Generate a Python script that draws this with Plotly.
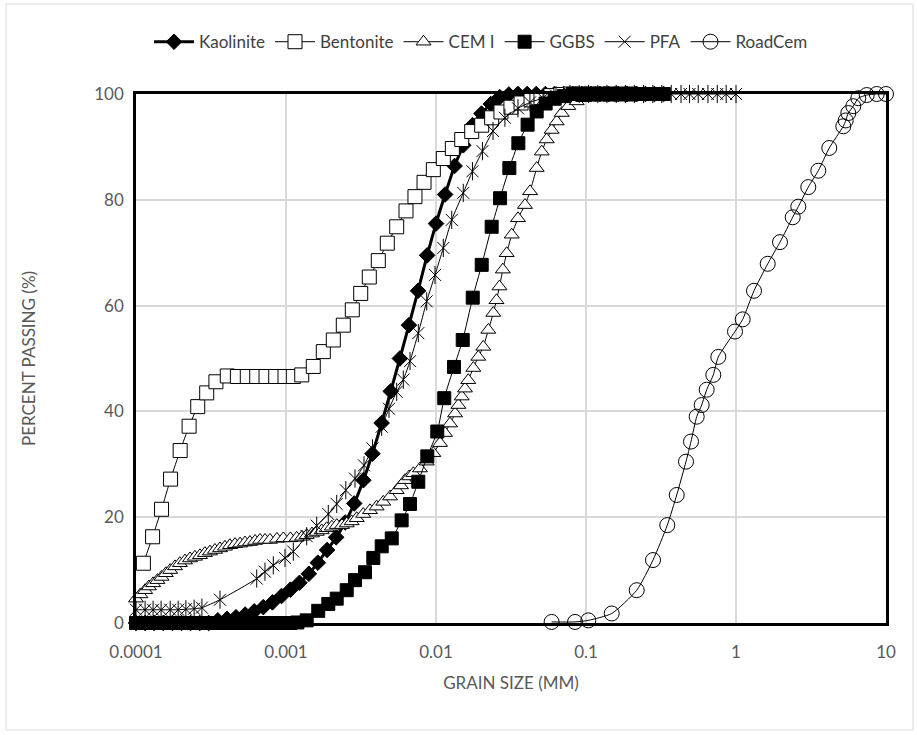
import plotly.graph_objects as go

# ---------------- data ----------------
kao_x = [0.0001, 0.000115, 0.000132, 0.000152, 0.000175, 0.000201, 0.000231, 0.000266, 0.000305,
         0.000351, 0.000404, 0.000464, 0.000534, 0.000614, 0.000706, 0.000812, 0.000934, 0.00107,
         0.00123, 0.00142, 0.00163, 0.00188, 0.00216, 0.00248, 0.00285, 0.00328, 0.00377, 0.00434,
         0.00499, 0.00574, 0.0066, 0.00759, 0.00873, 0.01, 0.0115, 0.0133, 0.0152, 0.0175, 0.0201,
         0.0232, 0.0266, 0.0306, 0.0352, 0.0405, 0.0466, 0.0536, 0.0616, 0.0709, 0.0815, 0.0937,
         0.108, 0.124, 0.142, 0.164, 0.188, 0.216, 0.249, 0.286, 0.329]
kao_y = [0, 0, 0, 0, 0, 0, 0, 0, 0,
         0.5, 0.8, 1.1, 1.6, 2.2, 3.0, 3.9, 5.1, 6.3,
         7.6, 9.3, 11.4, 13.8, 16.2, 19.0, 22.6, 27.0, 32.0, 37.8,
         43.8, 50.0, 56.3, 62.8, 69.5, 75.5, 81.0, 86.4, 90.3, 94.1, 96.3,
         98.1, 99.4, 99.9, 100, 100, 100, 100, 100, 100, 100, 100,
         100, 100, 100, 100, 100, 100, 100, 100, 100]

ben_x = [0.000112, 0.000129, 0.000148, 0.00017, 0.000197, 0.000226, 0.000258, 0.000296, 0.000341,
         0.000406, 0.000474, 0.000552, 0.000638, 0.000736, 0.000854, 0.000985, 0.001119, 0.001273,
         0.00152, 0.001773, 0.002067, 0.00241, 0.002767, 0.003148, 0.003592, 0.004124, 0.004735,
         0.00547, 0.00631, 0.00724, 0.00832, 0.0096, 0.01119, 0.01285, 0.01484, 0.0173, 0.02017,
         0.0235, 0.0271, 0.0316, 0.0369, 0.043, 0.0501, 0.0584, 0.0681, 0.079, 0.092, 0.107,
         0.125, 0.145, 0.17, 0.2]
ben_y = [11.3, 16.3, 21.5, 27.2, 32.6, 37.2, 40.9, 43.5, 45.6,
         46.7, 46.6, 46.6, 46.6, 46.6, 46.6, 46.6, 46.6, 46.9,
         48.5, 51.3, 53.5, 56.3, 59.2, 62.3, 65.4, 68.5, 71.8,
         74.9, 77.9, 80.6, 83.3, 85.7, 87.8, 89.7, 91.4, 92.9, 94.1,
         95.5, 96.6, 97.5, 98.3, 98.9, 99.3, 99.7, 99.9, 100, 100, 100,
         100, 100, 100, 100]

cem_x = [0.0001, 0.000107, 0.000115, 0.000122, 0.00013, 0.000139, 0.000148, 0.000158, 0.000169,
         0.000182, 0.000196, 0.000212, 0.000229, 0.000247, 0.000267, 0.000288, 0.000311, 0.000336,
         0.000363, 0.000392, 0.000423, 0.000457, 0.000494, 0.000533, 0.000575, 0.000622, 0.000671,
         0.000725, 0.000782, 0.00087, 0.00096, 0.00107, 0.001178, 0.00128, 0.001374, 0.00149,
         0.001602, 0.00173, 0.001867, 0.00202, 0.00218, 0.00236, 0.00254, 0.00274, 0.00296,
         0.00327, 0.00363, 0.00402, 0.00445, 0.00494, 0.00547, 0.00584, 0.00621, 0.00662, 0.00706,
         0.00782, 0.00867, 0.0096, 0.01064, 0.01148, 0.0124, 0.0134, 0.0141, 0.01484, 0.0156,
         0.0164, 0.01774, 0.01914, 0.02066, 0.02233, 0.0241, 0.0253, 0.0265, 0.0279, 0.0296,
         0.03197, 0.0352, 0.0392, 0.04236, 0.0469, 0.0507, 0.0547, 0.059, 0.0638, 0.0689, 0.0762,
         0.0867, 0.096, 0.105, 0.116, 0.128, 0.142, 0.158, 0.175, 0.195]
cem_y = [4.6, 5.4, 6.2, 6.9, 7.5, 8.1, 8.7, 9.4, 10.0,
         10.7, 11.3, 11.8, 12.2, 12.5, 12.8, 13.2, 13.5, 13.8,
         14.1, 14.4, 14.7, 14.9, 15.0, 15.2, 15.3, 15.5, 15.7,
         15.7, 15.7, 15.9, 16.0, 16.0, 16.1, 16.3, 16.6, 16.9,
         17.2, 17.5, 17.9, 18.2, 18.5, 18.5, 18.8, 19.2, 19.8,
         20.6, 21.3, 22.0, 22.9, 23.9, 25.1, 26.0, 27.0, 27.7, 28.3,
         29.2, 30.5, 32.1, 34.0, 35.9, 37.7, 39.6, 41.2, 42.8, 44.3,
         45.9, 48.2, 50.3, 52.2, 55.4, 58.6, 61.0, 63.6, 66.8, 69.9,
         73.4, 76.5, 79.0, 81.6, 86.0, 89.1, 91.4, 93.2, 94.8, 96.4, 97.7,
         98.6, 99.2, 99.6, 99.9, 100, 100, 100, 100, 100]

ggbs_x = [0.0001, 0.000115, 0.000132, 0.000152, 0.000175, 0.000201, 0.000231, 0.000266, 0.000305,
          0.000351, 0.000404, 0.000464, 0.000534, 0.000614, 0.000706, 0.000812, 0.000934, 0.00107,
          0.00119, 0.001374, 0.00164, 0.001914, 0.002178, 0.00254, 0.002884, 0.003363, 0.00382,
          0.004345, 0.00507, 0.0059, 0.00671, 0.00762, 0.00875, 0.0102, 0.01135, 0.01318, 0.01507,
          0.01757, 0.02017, 0.0235, 0.02673, 0.03083, 0.0354, 0.0408, 0.0469, 0.0538, 0.0618,
          0.071, 0.0815, 0.094, 0.108, 0.124, 0.142, 0.164, 0.188, 0.216, 0.249, 0.286, 0.33]
ggbs_y = [0, 0, 0, 0, 0, 0, 0, 0, 0,
          0, 0, 0, 0, 0, 0, 0, 0, 0,
          0.1, 0.5, 2.3, 3.6, 4.6, 6.2, 8.1, 9.6, 12.3,
          14.5, 16.0, 19.4, 22.5, 26.7, 31.5, 36.2, 42.5, 48.4, 53.5,
          61.5, 67.7, 74.9, 80.3, 86.0, 90.7, 94.2, 96.7, 98.2, 99.1,
          99.6, 100, 100, 100, 100, 100, 100, 100, 100, 100, 100, 100]

pfa_x = [0.0001, 0.000115, 0.00013, 0.000147, 0.000169, 0.000191, 0.000215, 0.000244, 0.000275,
         0.000363, 0.000638, 0.000724, 0.000823, 0.000985, 0.001119, 0.001374, 0.001602, 0.001914,
         0.002178, 0.002504, 0.002884, 0.003311, 0.003773, 0.004345, 0.004862, 0.00547, 0.006053,
         0.006711, 0.007621, 0.00867, 0.00985, 0.01119, 0.01273, 0.0152, 0.0175, 0.0204, 0.024,
         0.0288, 0.0352, 0.0423, 0.0517, 0.0631, 0.0782, 0.09, 0.104, 0.12, 0.138, 0.159, 0.183,
         0.21, 0.242, 0.279, 0.32, 0.37, 0.43, 0.49, 0.56, 0.65, 0.75, 0.86, 1.0]
pfa_y = [2.5, 2.5, 2.5, 2.5, 2.5, 2.5, 2.6, 2.7, 2.9,
         4.4, 8.4, 9.7, 10.9, 12.3, 13.5, 16.4, 18.4, 20.6,
         22.5, 25.1, 27.3, 29.8, 33.0, 37.1, 40.5, 43.7, 46.0,
         49.5, 54.8, 60.8, 65.8, 70.9, 76.2, 81.3, 85.4, 89.2, 93.0,
         95.5, 97.3, 98.4, 99.2, 99.7, 100, 100, 100, 100, 100, 100, 100,
         100, 100, 100, 100, 100, 100, 100, 100, 100, 100, 100, 100]

road_x = [0.059, 0.0845, 0.1036, 0.1484, 0.2178, 0.2797, 0.3483, 0.4025, 0.4642, 0.5012, 0.547,
          0.5904, 0.6378, 0.7058, 0.7621, 0.9848, 1.108, 1.318, 1.627, 1.965, 2.388, 2.602, 3.034,
          3.538, 4.188, 5.192, 5.387, 5.607, 6.053, 6.537, 7.435, 8.67, 10.0]
road_y = [0.2, 0.2, 0.5, 1.8, 6.2, 11.9, 18.5, 24.2, 30.5, 34.3, 39.0,
          41.2, 44.1, 46.9, 50.3, 55.1, 57.4, 62.8, 67.9, 72.0, 76.7, 78.7, 82.4,
          85.5, 89.8, 93.9, 95.0, 96.4, 97.7, 99.2, 99.8, 100, 100]

tick_vals = [0.0001, 0.001, 0.01, 0.1, 1, 10]
tick_text = ["0.0001", "0.001", "0.01", "0.1", "1", "10"]

# ---------------- figure ----------------
FONT = "Lato"
TXT = "#595959"
fig = go.Figure()

def add(name, x, y, symbol, size, lw, fill, showlegend=True, mode="lines+markers", shape="spline"):
    fig.add_trace(go.Scatter(
        x=x, y=y, name=name, mode=mode, showlegend=showlegend, cliponaxis=False,
        line=dict(color="black", width=lw, shape=shape, smoothing=0.6),
        marker=dict(symbol=symbol, size=size, color=fill,
                    line=dict(color="black", width=1)),
    ))

add("Kaolinite", kao_x, kao_y, "diamond", 12, 3, "black")
add("Bentonite", ben_x, ben_y, "square", 14, 1, "white")
add("CEM I", cem_x, cem_y, "triangle-up", 13, 1, "white")
add("GGBS", ggbs_x, ggbs_y, "square", 13, 1, "black")
add("PFA", pfa_x, pfa_y, "x-thin-open", 12, 1, "black")
fig.add_trace(go.Scatter(x=pfa_x, y=pfa_y, mode="markers", showlegend=False, cliponaxis=False,
                         hoverinfo="skip",
                         marker=dict(symbol="line-ns-open", size=13, color="black",
                                     line=dict(color="black", width=1))))
add("RoadCem", road_x, road_y, "circle", 15, 1, "rgba(0,0,0,0)")

fig.update_layout(
    width=917, height=735,
    paper_bgcolor="white", plot_bgcolor="white",
    margin=dict(l=136, r=31, t=94, b=112),
    font=dict(family=FONT, size=17, color=TXT),
    legend=dict(orientation="h", x=0.46, xanchor="center", y=1.098, yanchor="middle",
                font=dict(family=FONT, size=17, color="#404040"),
                itemwidth=40, tracegroupgap=0, bgcolor="rgba(0,0,0,0)"),
    shapes=[dict(type="rect", xref="paper", yref="paper",
                 x0=-130/750, x1=1 + 27/750, y0=-107/529, y1=1 + 90/529,
                 line=dict(color="#d9d9d9", width=1), layer="below")],
)
fig.update_xaxes(type="log", range=[-4, 1], tickvals=tick_vals, ticktext=tick_text,
                 showgrid=True, gridcolor="#d9d9d9", gridwidth=1.5,
                 showline=True, linecolor="black", linewidth=2.5, mirror=True,
                 ticks="", ticklabelstandoff=12, tickfont=dict(size=17, color=TXT),
                 title=dict(text="GRAIN SIZE (MM)", font=dict(size=17, color=TXT), standoff=16),
                 zeroline=False)
fig.update_yaxes(range=[0, 100], dtick=20, showgrid=True, gridcolor="#d9d9d9", gridwidth=1.5,
                 showline=True, linecolor="black", linewidth=2.5, mirror=True,
                 ticks="", ticklabelstandoff=6, tickfont=dict(size=17, color=TXT),
                 title=dict(text="PERCENT PASSING (%)", font=dict(size=17, color=TXT), standoff=55),
                 zeroline=False)

fig.write_html("out.html")
